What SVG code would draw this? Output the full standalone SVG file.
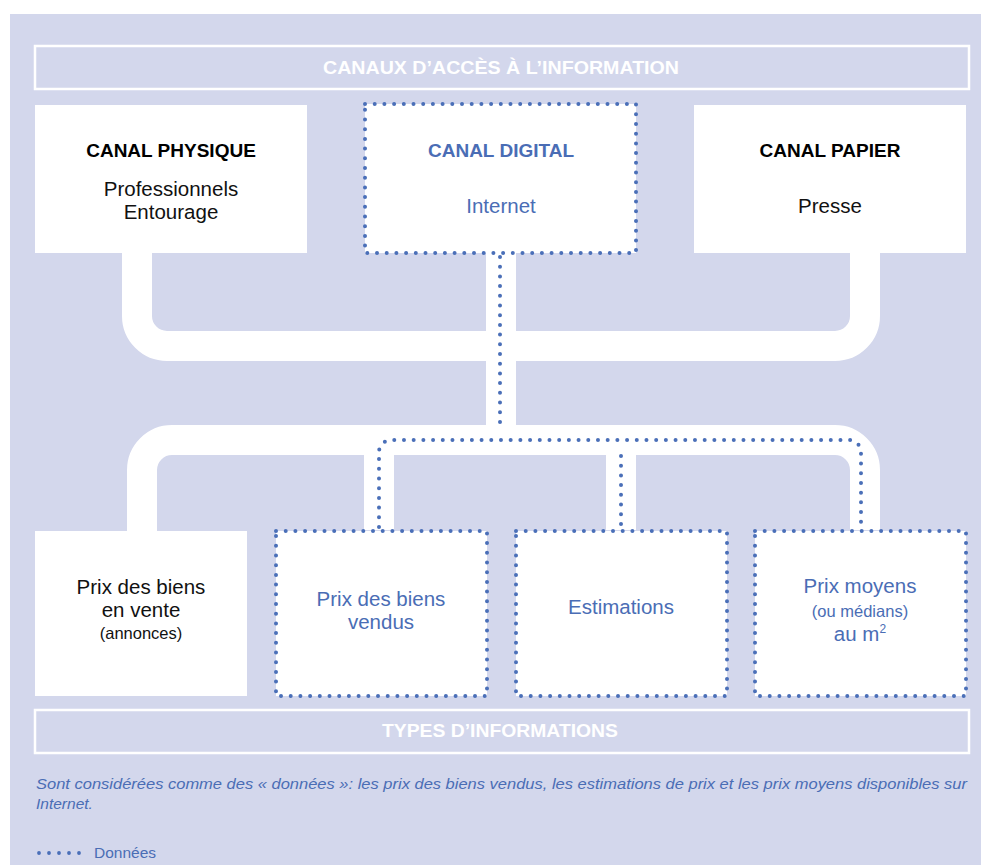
<svg xmlns="http://www.w3.org/2000/svg" width="981" height="865" viewBox="0 0 981 865">
<style>
.t{font-family:"Liberation Sans",Arial,sans-serif;text-anchor:middle}
.hdr{font-size:18px;font-weight:700;fill:#ffffff}
.ttl{font-size:19px;font-weight:700;fill:#000000}
.ttlb{font-size:19px;font-weight:700;fill:#4a6db5}
.bd{font-size:20.5px;fill:#111111}
.bb{font-size:20.5px;fill:#4a6db5}
.sm{font-size:16.5px;fill:#111111}
.smb{font-size:16.5px;fill:#4a6db5}
.box{fill:#ffffff}
.dbox{fill:#ffffff;stroke:#4a6fb8;stroke-width:4;stroke-dasharray:0 9.7;stroke-linecap:round}
.band{fill:none;stroke:#ffffff;stroke-width:30}
.dot{fill:none;stroke:#4a6fb8;stroke-width:4;stroke-dasharray:0 9.7;stroke-linecap:round}
.frame{fill:none;stroke:#ffffff;stroke-width:2.5}
.note{font-family:"Liberation Sans",Arial,sans-serif;font-size:15.5px;font-style:italic;fill:#4a6db5}
</style>
<rect x="0" y="0" width="981" height="865" fill="#ffffff"/>
<rect x="10" y="14" width="971" height="851" fill="#d3d7ec"/>

<g id="header-canaux">
<rect class="frame" x="35" y="46" width="934" height="43"/>
<text class="t hdr" x="501" y="74" textLength="356" lengthAdjust="spacingAndGlyphs">CANAUX D’ACCÈS À L’INFORMATION</text>
</g>

<g id="connectors">
<path class="band" d="M137,253 V316 A30,30 0 0 0 167,346 H835 A30,30 0 0 0 865,316 V253"/>
<path class="band" d="M501,253 V440"/>
<path class="band" d="M142,531 V470 A30,30 0 0 1 172,440 H835 A30,30 0 0 1 865,470 V530"/>
<path class="band" d="M379,440 V530"/>
<path class="band" d="M621,440 V530"/>
<path class="dot" d="M500,257 V430"/>
<path class="dot" d="M379,527 V452 A12,12 0 0 1 391,440 H849 A12,12 0 0 1 861,452 V527"/>
<path class="dot" d="M621,456 V527"/>
</g>

<g id="canal-physique">
<rect class="box" x="35" y="105" width="272" height="148"/>
<text class="t ttl" x="171" y="157">CANAL PHYSIQUE</text>
<text class="t bd" x="171" y="196">Professionnels</text>
<text class="t bd" x="171" y="219">Entourage</text>
</g>

<g id="canal-digital">
<rect class="dbox" x="365" y="104" width="271" height="149"/>
<text class="t ttlb" x="501" y="157">CANAL DIGITAL</text>
<text class="t bb" x="501" y="213" font-size="21.5">Internet</text>
</g>

<g id="canal-papier">
<rect class="box" x="694" y="105" width="272" height="148"/>
<text class="t ttl" x="830" y="157">CANAL PAPIER</text>
<text class="t bd" x="830" y="213">Presse</text>
</g>

<g id="prix-vente">
<rect class="box" x="35" y="531" width="212" height="165"/>
<text class="t bd" x="141" y="594">Prix des biens</text>
<text class="t bd" x="141" y="617">en vente</text>
<text class="t sm" x="141" y="639">(annonces)</text>
</g>

<g id="prix-vendus">
<rect class="dbox" x="276" y="531" width="211" height="165"/>
<text class="t bb" x="381" y="606">Prix des biens</text>
<text class="t bb" x="381" y="629">vendus</text>
</g>

<g id="estimations">
<rect class="dbox" x="516" y="531" width="211" height="165"/>
<text class="t bb" x="621" y="614" font-size="21.5">Estimations</text>
</g>

<g id="prix-moyens">
<rect class="dbox" x="755" y="531" width="211" height="165"/>
<text class="t bb" x="860" y="593">Prix moyens</text>
<text class="t smb" x="860" y="617">(ou médians)</text>
<text class="t bb" x="860" y="641">au m<tspan font-size="12" dy="-8">2</tspan></text>
</g>

<g id="header-types">
<rect class="frame" x="35" y="710" width="934" height="43"/>
<text class="t hdr" x="500" y="737" textLength="236" lengthAdjust="spacingAndGlyphs">TYPES D’INFORMATIONS</text>
</g>

<g id="note">
<text class="note" x="36" y="789" textLength="931" lengthAdjust="spacingAndGlyphs">Sont considérées comme des « données »: les prix des biens vendus, les estimations de prix et les prix moyens disponibles sur</text>
<text class="note" x="36" y="809">Internet.</text>
</g>

<g id="legend">
<path d="M39,853 H80" fill="none" stroke="#4a6fb8" stroke-width="3.8" stroke-dasharray="0 10" stroke-linecap="round"/>
<text font-family="Liberation Sans, Arial, sans-serif" font-size="15.5" fill="#4a6db5" x="94" y="858">Données</text>
</g>
</svg>
